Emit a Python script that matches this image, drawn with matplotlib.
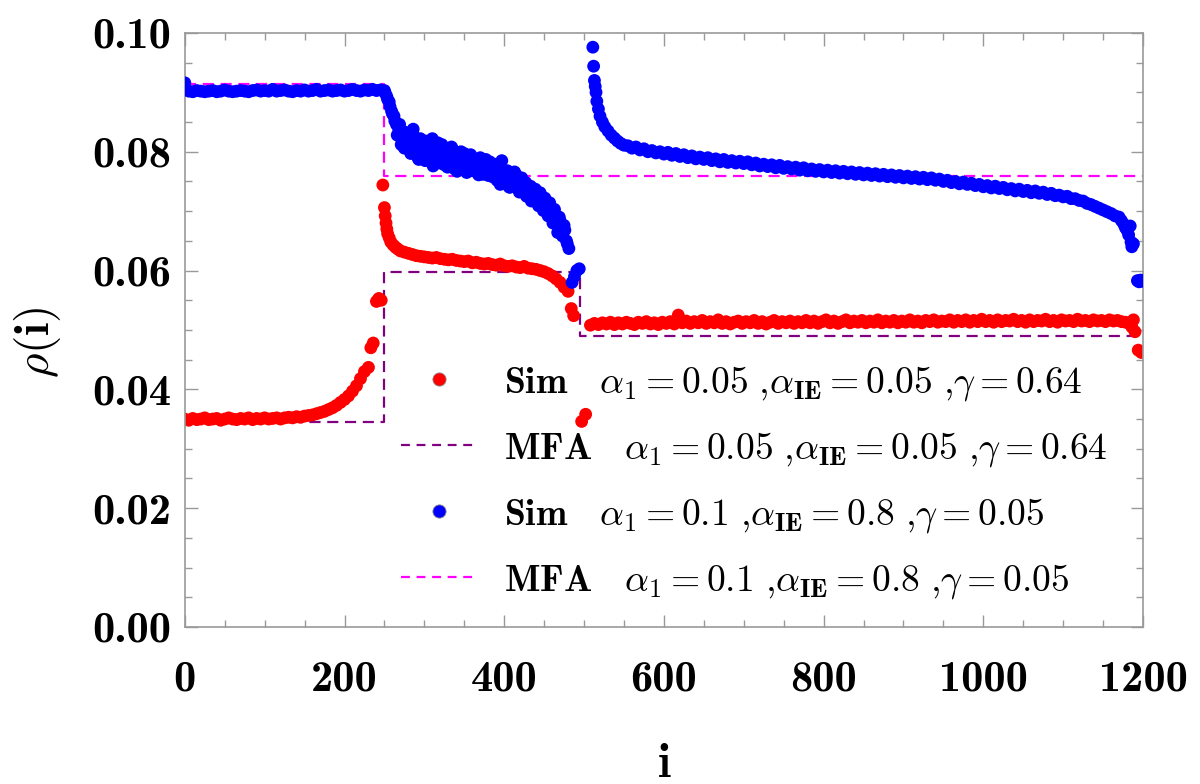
import matplotlib
matplotlib.use("Agg")
import matplotlib.pyplot as plt
from matplotlib.lines import Line2D
from matplotlib.ticker import MultipleLocator

plt.rcParams['font.family'] = 'cmb10'
plt.rcParams['mathtext.fontset'] = 'cm'
plt.rcParams['axes.unicode_minus'] = False

# ---- simulation, red (alpha1=0.05, alphaIE=0.05, gamma=0.64) ----
red_x = (list(range(0, 230, 5))
         + [230, 233, 236, 240, 243, 246]
         + [248, 250, 251, 252, 253, 254, 256, 258, 261, 264, 267, 270]
         + list(range(275, 485, 5))
         + [484, 487, 497, 502]
         + list(range(508, 1185, 5))
         + [1186, 1188, 1190, 1194, 1198])
red_y = ([0.0350, 0.0348, 0.0351, 0.0349, 0.0350, 0.0352, 0.0349, 0.0350, 0.0351, 0.0348,
          0.0350, 0.0352, 0.0350, 0.0349, 0.0351, 0.0350, 0.0352, 0.0349, 0.0351, 0.0350,
          0.0352, 0.0350, 0.0351, 0.0352, 0.0350, 0.0352, 0.0353, 0.0352, 0.0354, 0.0353,
          0.0355, 0.0356, 0.0357, 0.0359, 0.0361, 0.0363, 0.0366, 0.0369, 0.0373, 0.0378,
          0.0383, 0.0389, 0.0397, 0.0406, 0.0418, 0.0430]
         + [0.0437, 0.0470, 0.0478, 0.0548, 0.0553, 0.0550]
         + [0.0744, 0.0706, 0.0692, 0.0680, 0.0670, 0.0662, 0.0655, 0.0648, 0.0643, 0.0639, 0.0636, 0.0633]
         + [0.0631, 0.0629, 0.0627, 0.0625, 0.0624, 0.0623, 0.0622, 0.0621, 0.0622, 0.0620,
            0.0619, 0.0618, 0.0619, 0.0617, 0.0616, 0.0615, 0.0616, 0.0613, 0.0614, 0.0612,
            0.0611, 0.0612, 0.0610, 0.0609, 0.0611, 0.0608, 0.0607, 0.0608, 0.0606, 0.0605,
            0.0607, 0.0604, 0.0603, 0.0602, 0.0600, 0.0598, 0.0595, 0.0591, 0.0586, 0.0580,
            0.0572, 0.0565]
         + [0.0536, 0.0524, 0.0346, 0.0358]
         + [0.0508, 0.0511, 0.0509, 0.0512, 0.0510, 0.0513, 0.0509, 0.0512, 0.0510, 0.0513,
            0.0511, 0.0509, 0.0513, 0.0511, 0.0514, 0.0510, 0.0512, 0.0509, 0.0513, 0.0511,
            0.0514, 0.0510, 0.0525, 0.0512, 0.0515, 0.0511, 0.0514, 0.0512, 0.0516, 0.0511,
            0.0514, 0.0512, 0.0517, 0.0511, 0.0514, 0.0510, 0.0513, 0.0515, 0.0511, 0.0514,
            0.0512, 0.0516, 0.0511, 0.0514, 0.0510, 0.0513, 0.0516, 0.0511, 0.0514, 0.0512,
            0.0515, 0.0511, 0.0514, 0.0512, 0.0516, 0.0512, 0.0515, 0.0511, 0.0514, 0.0517,
            0.0512, 0.0515, 0.0511, 0.0514, 0.0517, 0.0512, 0.0515, 0.0513, 0.0516, 0.0512,
            0.0515, 0.0513, 0.0517, 0.0512, 0.0515, 0.0513, 0.0516, 0.0512, 0.0515, 0.0513,
            0.0517, 0.0513, 0.0515, 0.0512, 0.0516, 0.0514, 0.0517, 0.0513, 0.0515, 0.0514,
            0.0517, 0.0513, 0.0516, 0.0514, 0.0517, 0.0513, 0.0516, 0.0514, 0.0518, 0.0514,
            0.0516, 0.0513, 0.0517, 0.0514, 0.0516, 0.0515, 0.0518, 0.0514, 0.0516, 0.0513,
            0.0517, 0.0514, 0.0516, 0.0515, 0.0518, 0.0514, 0.0516, 0.0513, 0.0517, 0.0515,
            0.0516, 0.0514, 0.0518, 0.0515, 0.0516, 0.0514, 0.0517, 0.0515, 0.0516, 0.0514,
            0.0517, 0.0515, 0.0516, 0.0514, 0.0513, 0.0511]
         + [0.0505, 0.0517, 0.0497, 0.0466, 0.0462])

# ---- simulation, blue (alpha1=0.1, alphaIE=0.8, gamma=0.05) ----
blue_x = (list(range(0, 250, 5))
          + list(range(250, 482, 3))
          + list(range(251, 480, 3))
          + [485, 488, 491, 494]
          + [511, 512, 513, 514, 515, 516, 518, 520, 523, 526, 530, 534, 538, 542, 546, 550]
          + list(range(555, 1170, 5))
          + [1170, 1173, 1176, 1178, 1180, 1182, 1184, 1185, 1186, 1188]
          + [1193, 1195, 1197, 1199])
blue_y = ([0.0916, 0.0902, 0.0901, 0.0903, 0.0902, 0.0901, 0.0902, 0.0903, 0.0901, 0.0902,
           0.0904, 0.0902, 0.0901, 0.0902, 0.0903, 0.0902, 0.0901, 0.0903, 0.0904, 0.0902,
           0.0903, 0.0902, 0.0905, 0.0902, 0.0903, 0.0904, 0.0902, 0.0901, 0.0903, 0.0902,
           0.0904, 0.0902, 0.0903, 0.0905, 0.0902, 0.0903, 0.0904, 0.0902, 0.0903, 0.0904,
           0.0902, 0.0903, 0.0905, 0.0903, 0.0902, 0.0904, 0.0903, 0.0905, 0.0903, 0.0904]
          + [0.0903, 0.0893, 0.0884, 0.0868, 0.0860, 0.0846, 0.0838, 0.0812, 0.0834, 0.0808,
             0.0826, 0.0797, 0.0838, 0.0812, 0.0790, 0.0822, 0.0803, 0.0785, 0.0815, 0.0798,
             0.0822, 0.0782, 0.0805, 0.0790, 0.0812, 0.0778, 0.0798, 0.0785, 0.0808, 0.0772,
             0.0795, 0.0783, 0.0800, 0.0770, 0.0788, 0.0776, 0.0795, 0.0768, 0.0784, 0.0773,
             0.0790, 0.0762, 0.0778, 0.0768, 0.0783, 0.0758, 0.0772,
             0.0752, 0.0768, 0.0785, 0.0748, 0.0762, 0.0741, 0.0757, 0.0745, 0.0761, 0.0738,
             0.0752, 0.0734, 0.0748, 0.0729, 0.0742, 0.0724, 0.0737, 0.0718, 0.0731, 0.0712,
             0.0722, 0.0704, 0.0714, 0.0696, 0.0703, 0.0684, 0.0690, 0.0672, 0.0676, 0.0650,
             0.0637]
          + [0.0899, 0.0888, 0.0876, 0.0864, 0.0852, 0.0828, 0.0846, 0.0820, 0.0806, 0.0830,
             0.0812, 0.0801, 0.0826, 0.0805, 0.0787, 0.0810, 0.0793, 0.0818, 0.0788, 0.0802,
             0.0776, 0.0796, 0.0815, 0.0781, 0.0800, 0.0789, 0.0774, 0.0791, 0.0805, 0.0782,
             0.0767, 0.0790, 0.0779, 0.0797, 0.0765, 0.0781, 0.0770, 0.0786, 0.0775, 0.0761,
             0.0779, 0.0770, 0.0787, 0.0760, 0.0774, 0.0764, 0.0779,
             0.0758, 0.0745, 0.0770, 0.0755, 0.0768, 0.0740, 0.0752, 0.0766, 0.0744, 0.0732,
             0.0756, 0.0741, 0.0725, 0.0739, 0.0717, 0.0733, 0.0721, 0.0709, 0.0725, 0.0701,
             0.0716, 0.0692, 0.0708, 0.0680, 0.0694, 0.0664, 0.0684, 0.0658, 0.0668, 0.0645]
          + [0.0580, 0.0590, 0.0600, 0.0603]
          + [0.0976, 0.0944, 0.0920, 0.0910, 0.0900, 0.0885, 0.0872, 0.0860, 0.0850, 0.0842,
             0.0835, 0.0828, 0.0823, 0.0818, 0.0814, 0.0811]
          + [0.0810, 0.0806, 0.0808, 0.0803, 0.0805, 0.0800, 0.0802, 0.0798, 0.0800, 0.0796,
             0.0799, 0.0794, 0.0797, 0.0792, 0.0795, 0.0790, 0.0793, 0.0788, 0.0791, 0.0787,
             0.0790, 0.0785, 0.0788, 0.0783, 0.0787, 0.0782, 0.0785, 0.0781, 0.0784, 0.0780,
             0.0783, 0.0778, 0.0781, 0.0776, 0.0779, 0.0775, 0.0778, 0.0773, 0.0777, 0.0772,
             0.0775, 0.0771, 0.0774, 0.0769, 0.0773, 0.0768, 0.0771, 0.0767, 0.0770, 0.0766,
             0.0769, 0.0765, 0.0768, 0.0764, 0.0767, 0.0763, 0.0766, 0.0762, 0.0765, 0.0761,
             0.0764, 0.0760, 0.0763, 0.0759, 0.0762, 0.0758, 0.0761, 0.0757, 0.0760, 0.0756,
             0.0759, 0.0755, 0.0758, 0.0754, 0.0757, 0.0753, 0.0756, 0.0752, 0.0754, 0.0750,
             0.0752, 0.0748, 0.0750, 0.0746, 0.0749, 0.0745, 0.0747, 0.0743, 0.0745, 0.0741,
             0.0743, 0.0739, 0.0742, 0.0738, 0.0740, 0.0736, 0.0738, 0.0734, 0.0737, 0.0733,
             0.0735, 0.0731, 0.0734, 0.0730, 0.0732, 0.0728, 0.0730, 0.0726, 0.0727, 0.0724,
             0.0725, 0.0721, 0.0721, 0.0718, 0.0717, 0.0713, 0.0711, 0.0708, 0.0705, 0.0702,
             0.0699, 0.0696, 0.0692]
          + [0.0690, 0.0684, 0.0678, 0.0672, 0.0668, 0.0660, 0.0675, 0.0648, 0.0640, 0.0645]
          + [0.0583, 0.0581, 0.0584, 0.0582])

# ---- mean field (MFA) step levels ----
mfa_red_x = [0, 250, 250, 495, 495, 1200]
mfa_red_y = [0.0345, 0.0345, 0.0598, 0.0598, 0.0490, 0.0490]
mfa_blue_x = [0, 250, 250, 1200]
mfa_blue_y = [0.0914, 0.0914, 0.0759, 0.0759]

labels = [r'$\mathbf{Sim}\ \ \ \alpha_{1}\mathbf{=0.05}\ \mathbf{,}\alpha_{\mathbf{IE}}\mathbf{=0.05}\ \mathbf{,}\gamma\mathbf{=0.64}$',
          r'$\mathbf{MFA}\ \ \ \alpha_{1}\mathbf{=0.05}\ \mathbf{,}\alpha_{\mathbf{IE}}\mathbf{=0.05}\ \mathbf{,}\gamma\mathbf{=0.64}$',
          r'$\mathbf{Sim}\ \ \ \alpha_{1}\mathbf{=0.1}\ \mathbf{,}\alpha_{\mathbf{IE}}\mathbf{=0.8}\ \mathbf{,}\gamma\mathbf{=0.05}$',
          r'$\mathbf{MFA}\ \ \ \alpha_{1}\mathbf{=0.1}\ \mathbf{,}\alpha_{\mathbf{IE}}\mathbf{=0.8}\ \mathbf{,}\gamma\mathbf{=0.05}$']

assert len(red_x) == len(red_y)
assert len(blue_x) == len(blue_y)

RED = '#ff0000'
BLUE = '#0000ff'
PURPLE = '#800080'
MAGENTA = '#ff00ff'
FRAME = '#999999'

fig = plt.figure(figsize=(12, 7.84), dpi=100)
ax = fig.add_axes([0.154, 0.2003, 0.7985, 0.7577])

ax.plot(mfa_red_x, mfa_red_y, color=PURPLE, lw=1.6, dashes=(5, 3), zorder=1)
ax.plot(mfa_blue_x, mfa_blue_y, color=MAGENTA, lw=1.6, dashes=(5, 3), zorder=1)
ax.scatter(red_x, red_y, s=85, color=RED, edgecolors='none', zorder=2)
ax.scatter(blue_x, blue_y, s=85, color=BLUE, edgecolors='none', zorder=3)

ax.set_xlim(0, 1200)
ax.set_ylim(0, 0.10)
ax.xaxis.set_major_locator(MultipleLocator(200))
ax.xaxis.set_minor_locator(MultipleLocator(50))
ax.yaxis.set_major_locator(MultipleLocator(0.02))
ax.yaxis.set_minor_locator(MultipleLocator(0.005))
ax.yaxis.set_major_formatter(plt.FuncFormatter(lambda v, p: f'{v:.2f}'))

for sp in ax.spines.values():
    sp.set_color(FRAME)
    sp.set_linewidth(1.2)
ax.tick_params(which='both', direction='in', top=True, right=True, color=FRAME, width=1)
ax.tick_params(which='major', length=9, labelsize=32)
ax.tick_params(which='minor', length=5)
ax.tick_params(axis='x', pad=24)
ax.tick_params(axis='y', pad=10)

ax.set_xlabel(r'$\mathbf{i}$', fontsize=34, labelpad=32)
ax.set_ylabel(r'$\rho\mathbf{(i)}$', fontsize=34)
ax.yaxis.set_label_coords(-0.127, 0.48)

handles = [Line2D([], [], ls='none', marker='o', ms=9.5, mfc=RED, mec='#888888', mew=0.6),
           Line2D([], [], color=PURPLE, lw=1.6, dashes=(4, 3)),
           Line2D([], [], ls='none', marker='o', ms=9.5, mfc=BLUE, mec='#888888', mew=0.6),
           Line2D([], [], color=MAGENTA, lw=1.6, dashes=(4, 3))]
ax.legend(handles, labels, loc='upper left', bbox_to_anchor=(0.226, 0.443),
          frameon=False, fontsize=27, handlelength=2.0, handletextpad=0.75,
          labelspacing=0.72, borderpad=0, borderaxespad=0)

fig.savefig('out.png', dpi=100)
